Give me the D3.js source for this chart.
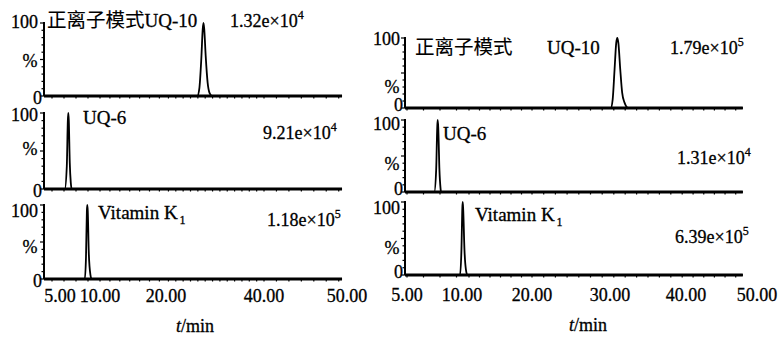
<!DOCTYPE html>
<html><head><meta charset="utf-8">
<script src="https://cdn.jsdelivr.net/npm/d3@7"></script>
<style>
body{margin:0;background:#fff}
svg text{font-family:"Liberation Serif","Times New Roman","DejaVu Serif",serif;fill:#000;stroke:#000;stroke-width:0.3px}
svg text .cjk, svg text.cjk{font-family:"Noto Sans CJK SC","Noto Sans CJK JP",sans-serif;stroke-width:0.1px}
</style>
</head><body>
<svg id="chart" width="779" height="337"></svg>
<script>
// ---- data ----
// Retention-time tick values for the two chromatogram columns
const leftTicks = [5, 10, 20, 40, 50];
const rightTicks = [5, 10, 20, 30, 40, 50];

// Compound names (one per row) and ionisation mode
const compounds = ["UQ-10", "UQ-6", "Vitamin K"];
const compoundSub = ["", "", "1"];
const modeLabel = "正离子模式";

// Base-peak intensities per row: [mantissa, exponent]
const leftIntensity = [[1.32, 4], [9.21, 4], [1.18, 5]];
const rightIntensity = [[1.79, 5], [1.31, 4], [6.39, 5]];

// Traces: [time / min, relative abundance / %]
const leftUQ10 = [[3.1,0],[26.4,0],[26.8,10],[27.2,50],[27.5,92],[27.65,100],[27.8,92],[28.1,55],[28.5,18],[28.9,4],[29.4,0],[49.4,0]];
const leftUQ6 = [[3.1,0],[5.6,0],[5.85,30],[5.98,90],[6.04,100],[6.1,90],[6.22,35],[6.35,8],[6.46,0],[49.4,0]];
const leftK1 = [[3.1,0],[8.1,0],[8.25,30],[8.36,92],[8.41,100],[8.47,92],[8.6,35],[8.8,6],[8.96,0],[49.4,0]];

const rightUQ10 = [[4.85,0],[30.1,0],[30.35,12],[30.6,55],[30.82,93],[30.96,100],[31.1,93],[31.35,55],[31.6,22],[31.9,8],[32.4,0],[48.0,0]];
const rightUQ6 = [[4.85,0],[7.48,0],[7.65,30],[7.75,90],[7.79,100],[7.84,90],[7.95,30],[8.05,5],[8.09,0],[48.0,0]];
const rightK1 = [[4.85,0],[9.82,0],[9.95,35],[10.05,92],[10.1,100],[10.17,90],[10.35,35],[10.55,8],[10.76,0],[48.0,0]];

// ---- layout ----
const svg = d3.select("#chart");

const columns = [
  {
    ticks: leftTicks,
    range: [60, 100, 166, 264, 347],
    axisX: 44,
    rows: [{top: 23, base: 96}, {top: 113, base: 189}, {top: 205, base: 279}],
    traces: [leftUQ10, leftUQ6, leftK1],
    intensity: leftIntensity,
    hundredY: [24, 117, 213], pctY: [63, 151, 249], zeroDy: 4,
    hundredDx: -6, pctDx: -14, zeroDx: -2,
    nameXY: [[null, 27], [83, 124], [98, 219]],
    modeXY: [47, 27],
    valXY: [[230, 27], [263, 139], [267, 226]],
    tickY: 302, titleXY: [195, 332]
  },
  {
    ticks: rightTicks,
    range: [407, 462, 532, 610, 686, 757],
    axisX: 405,
    rows: [{top: 38, base: 108}, {top: 120, base: 192}, {top: 202, base: 275}],
    traces: [rightUQ10, rightUQ6, rightK1],
    intensity: rightIntensity,
    hundredY: [41, 126, 210], pctY: [89, 166, 250], zeroDy: -1,
    hundredDx: -5, pctDx: -13, zeroDx: -2,
    nameXY: [[547, 54], [443, 140], [475, 221]],
    modeXY: [415, 54],
    valXY: [[670, 54], [677, 164], [675, 243]],
    tickY: 301, titleXY: [588, 331]
  }
];

const fmt = d3.format(".2f");

columns.forEach(col => {
  const x = d3.scaleLinear().domain(col.ticks).range(col.range);
  const tMin = d3.min(col.traces[0], d => d[0]);
  const tMax = d3.max(col.traces[0], d => d[0]);

  col.rows.forEach((row, i) => {
    const y = d3.scaleLinear().domain([0, 100]).range([row.base, row.top]);
    const g = svg.append("g");

    // y axis line with small ticks pointing left
    g.append("line")
      .attr("x1", col.axisX).attr("x2", col.axisX)
      .attr("y1", y(100) - 1).attr("y2", y(0))
      .attr("stroke", "#000").attr("stroke-width", 2);
    g.selectAll(".yt").data(d3.range(0, 101, 10)).join("line")
      .attr("x1", d => col.axisX - (d % 50 === 0 ? 4 : 2.5)).attr("x2", col.axisX)
      .attr("y1", d => y(d)).attr("y2", d => y(d))
      .attr("stroke", "#000").attr("stroke-width", 1.2);

    // baseline axis with minor ticks beneath
    g.append("line")
      .attr("x1", col.axisX).attr("x2", x(tMax))
      .attr("y1", y(0)).attr("y2", y(0))
      .attr("stroke", "#000").attr("stroke-width", 2.8);
    g.selectAll(".xt").data(d3.range(Math.ceil(tMin), tMax, 1.5)).join("line")
      .attr("x1", d => x(d)).attr("x2", d => x(d))
      .attr("y1", y(0)).attr("y2", y(0) + 2.5)
      .attr("stroke", "#000").attr("stroke-width", 1.2);

    // chromatogram trace
    g.append("path")
      .datum(col.traces[i])
      .attr("fill", "none").attr("stroke", "#000").attr("stroke-width", 1.8)
      .attr("stroke-linejoin", "round")
      .attr("d", d3.line().x(d => x(d[0])).y(d => y(d[1])).curve(d3.curveMonotoneX));

    // y axis labels
    g.append("text").attr("x", col.axisX + col.hundredDx).attr("y", col.hundredY[i])
      .attr("text-anchor", "end").attr("dominant-baseline", "middle")
      .attr("font-size", 18).text("100");
    g.append("text").attr("x", col.axisX + col.pctDx).attr("y", col.pctY[i])
      .attr("text-anchor", "middle").attr("dominant-baseline", "middle")
      .attr("font-size", 18).text("%");
    g.append("text").attr("x", col.axisX + col.zeroDx).attr("y", y(0) + col.zeroDy)
      .attr("text-anchor", "end").attr("dominant-baseline", "middle")
      .attr("font-size", 18).text("0");

    // compound name (the first row shares a line with the mode label)
    const name = g.append("text").attr("font-size", 19);
    if (i === 0 && col.nameXY[0][0] === null) {
      name.attr("x", col.modeXY[0]).attr("y", col.modeXY[1]);
      name.append("tspan").attr("class", "cjk").attr("font-size", 19.5).text(modeLabel);
      name.append("tspan").text(compounds[0]);
    } else {
      if (i === 0) {
        g.append("text").attr("class", "cjk").attr("x", col.modeXY[0]).attr("y", col.modeXY[1])
          .attr("font-size", 19.5).text(modeLabel);
      }
      name.attr("x", col.nameXY[i][0]).attr("y", col.nameXY[i][1]);
      name.append("tspan").text(compounds[i]);
      if (compoundSub[i]) {
        name.append("tspan").attr("dx", 2).attr("dy", 5).attr("font-size", 12).text(compoundSub[i]);
      }
    }

    // base-peak intensity
    const v = col.intensity[i];
    const val = g.append("text").attr("x", col.valXY[i][0]).attr("y", col.valXY[i][1])
      .attr("font-size", 18);
    val.append("tspan").text(fmt(v[0]) + "e×10");
    val.append("tspan").attr("dy", -8).attr("font-size", 12).text(v[1]);
  });

  // time tick labels
  svg.append("g").selectAll("text").data(col.ticks).join("text")
    .attr("x", d => x(d)).attr("y", col.tickY)
    .attr("text-anchor", "middle")
    .attr("font-size", 18)
    .text(d => fmt(d));

  // axis title
  const title = svg.append("text").attr("x", col.titleXY[0]).attr("y", col.titleXY[1])
    .attr("text-anchor", "middle").attr("font-size", 18);
  title.append("tspan").attr("font-style", "italic").text("t");
  title.append("tspan").text("/min");
});
</script>
</body></html>
